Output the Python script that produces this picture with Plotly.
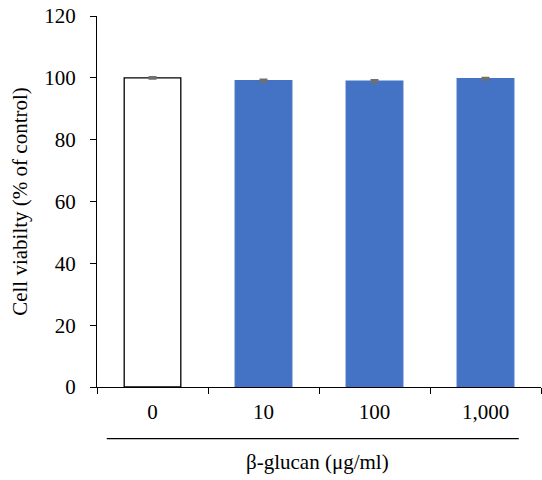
import plotly.graph_objects as go

categories = ["0", "10", "100", "1,000"]
values = [100.0, 99.1, 98.9, 99.7]
errors = [0.3, 0.4, 0.4, 0.3]
y_ticks = [0, 20, 40, 60, 80, 100, 120]

fill_colors = ["white", "#4472C4", "#4472C4", "#4472C4"]
line_colors = ["black", "#4472C4", "#4472C4", "#4472C4"]

FONT = "Liberation Serif"
FS = 21

fig = go.Figure()
fig.add_trace(go.Bar(
    x=categories, y=values,
    marker=dict(color=fill_colors, line=dict(color=line_colors, width=1.3)),
    width=0.51,
    error_y=dict(type="data", array=errors, visible=True, color="#707070", thickness=2, width=4),
))

fig.update_layout(
    width=542, height=480,
    margin=dict(l=97, r=1, t=16, b=93),
    plot_bgcolor="white", paper_bgcolor="white",
    showlegend=False,
    font=dict(family=FONT, size=FS, color="black"),
    xaxis=dict(
        showline=True, linecolor="black", linewidth=1.3,
        ticks="outside", ticklen=6, tickcolor="black", tickwidth=1.3,
        tickson="boundaries", ticklabelstandoff=6,
        tickfont=dict(family=FONT, size=FS),
    ),
    yaxis=dict(
        range=[0, 120], tickvals=y_ticks,
        showline=True, linecolor="black", linewidth=1.3,
        ticks="outside", ticklen=6, tickcolor="black", tickwidth=1.3,
        showgrid=False, zeroline=False, ticklabelstandoff=10,
        tickfont=dict(family=FONT, size=FS),
        title=dict(text="Cell viabilty (% of control)", font=dict(family=FONT, size=FS), standoff=10),
    ),
)

fig.add_shape(type="line", xref="paper", yref="paper",
              x0=0.022, x1=0.95, y0=-0.139, y1=-0.139,
              line=dict(color="black", width=1.3))
fig.add_annotation(text="β-glucan (μg/ml)", xref="paper", yref="paper",
                   x=0.497, y=-0.202, showarrow=False, yanchor="middle",
                   font=dict(family=FONT, size=FS))

fig.write_html("out.html")
